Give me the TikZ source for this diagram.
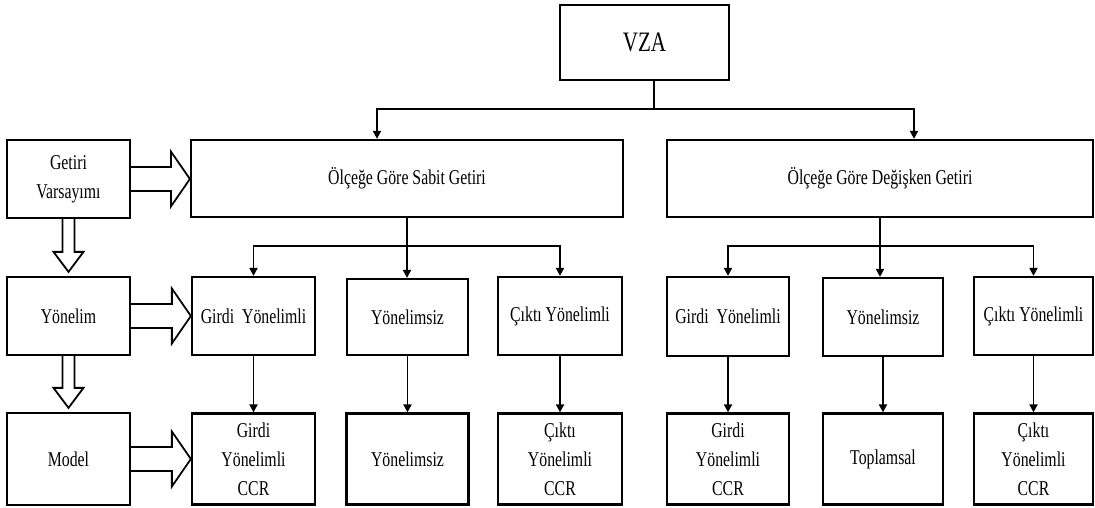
\documentclass[tikz,border=0pt]{standalone}
\usepackage{fontspec}
\setmainfont{Liberation Serif}
\usetikzlibrary{arrows.meta}
\usetikzlibrary{calc}

\newcommand{\tn}[1]{\scalebox{0.75}[1]{#1}}

\tikzset{
  box/.style={draw, line width=1.3pt, align=center, inner sep=1pt, font=\fontsize{12}{16.5}\selectfont},
  conn/.style={line width=1.1pt, -{Triangle[length=4.5pt,width=4.5pt]}},
  bar/.style={line width=1.1pt},
  hollow/.style={draw, line width=1pt, fill=white, line join=miter},
}

\newcommand{\fatright}[2]{%
  \draw[hollow] let \p1=(#1.east), \p2=(#2.west) in
    (\x1,\y1+0.24cm) -- (\x2-0.38cm,\y1+0.24cm) -- (\x2-0.38cm,\y1+0.55cm) -- (\x2,\y1)
    -- (\x2-0.38cm,\y1-0.55cm) -- (\x2-0.38cm,\y1-0.24cm) -- (\x1,\y1-0.24cm);}
\newcommand{\fatdown}[2]{%
  \draw[hollow] let \p1=(#1.south), \p2=(#2.north) in
    (\x1-0.12cm,\y1) -- (\x1-0.12cm,\y2+0.48cm) -- (\x1-0.3cm,\y2+0.48cm) -- (\x1,\y2+0.08cm)
    -- (\x1+0.3cm,\y2+0.48cm) -- (\x1+0.12cm,\y2+0.48cm) -- (\x1+0.12cm,\y1);}

\begin{document}
\begin{tikzpicture}[x=0.02cm, y=-0.02cm]
        \useasboundingbox (0,0) rectangle (1095,507);
        \node[box, minimum width=3.38cm, minimum height=1.5cm, font=\fontsize{16}{19}\selectfont] (vza) at (644.5,42.5) {\tn{VZA}};
        \node[box, minimum width=8.64cm, minimum height=1.54cm] (sabit) at (407,178.5) {\tn{Ölçeğe Göre Sabit Getiri}};
        \node[box, minimum width=8.52cm, minimum height=1.54cm] (degisken) at (880,178.5) {\tn{Ölçeğe Göre Değişken Getiri}};
        \node[box, minimum width=2.46cm, minimum height=1.56cm] (getiri) at (68.5,179) {\tn{Getiri}\\\tn{Varsayımı}};
        \node[box, minimum width=2.46cm, minimum height=1.56cm] (yonelim) at (68.5,316) {\tn{Yönelim}};
        \node[box, minimum width=2.46cm, minimum height=1.84cm] (model) at (68.5,459) {\tn{Model}};

        \node[box, minimum width=2.46cm, minimum height=1.56cm] (girdiS) at (253.5,316) {\tn{Girdi\ \ Yönelimli}};
        \node[box, minimum width=2.42cm, minimum height=1.52cm] (yonsizS) at (407.5,317) {\tn{Yönelimsiz}};
        \node[box, minimum width=2.48cm, minimum height=1.56cm] (ciktiS) at (560,316) {\tn{Çıktı Yönelimli}};
        \node[box, minimum width=2.44cm, minimum height=1.58cm] (girdiD) at (728,316.5) {\tn{Girdi\ \ Yönelimli}};
        \node[box, minimum width=2.40cm, minimum height=1.56cm] (yonsizD) at (883,317) {\tn{Yönelimsiz}};
        \node[box, minimum width=2.38cm, minimum height=1.56cm] (ciktiD) at (1033.5,316) {\tn{Çıktı Yönelimli}};

        \node[box, minimum width=2.46cm, minimum height=1.82cm] (girdiSM) at (253.5,459) {\tn{Girdi}\\\tn{Yönelimli}\\\tn{CCR}};
        \node[box, minimum width=2.44cm, minimum height=1.82cm] (yonsizSM) at (407.5,459) {\tn{Yönelimsiz}};
        \node[box, minimum width=2.48cm, minimum height=1.82cm] (ciktiSM) at (560,459) {\tn{Çıktı}\\\tn{Yönelimli}\\\tn{CCR}};
        \node[box, minimum width=2.44cm, minimum height=1.82cm] (girdiDM) at (728,459) {\tn{Girdi}\\\tn{Yönelimli}\\\tn{CCR}};
        \node[box, minimum width=2.40cm, minimum height=1.82cm] (yonsizDM) at (883,459) {\tn{Toplamsal}};
        \node[box, minimum width=2.38cm, minimum height=1.82cm] (ciktiDM) at (1033.5,459) {\tn{Çıktı}\\\tn{Yönelimli}\\\tn{CCR}};

        \coordinate (busV) at (654,109);
        \coordinate (busL) at (377,109);
        \coordinate (busR) at (914,109);
        \draw[bar] (busV |- vza.south) -- (busV);
        \draw[conn] (busV) -| (sabit.north -| busL);
        \draw[conn] (busV) -| (degisken.north -| busR);

        \coordinate (busS) at (sabit.south |- 0,246);
        \coordinate (busD) at (degisken.south |- 0,246);
        \draw[conn] (sabit.south) -- (sabit.south |- yonsizS.north);
        \draw[conn] (degisken.south) -- (degisken.south |- yonsizD.north);
        \foreach \b in {girdiS, ciktiS} {
                \draw[conn] (busS) -| (\b.north);
            }
        \foreach \b in {girdiD, ciktiD} {
                \draw[conn] (busD) -| (\b.north);
            }
        \foreach \a/\b in {girdiS/girdiSM, yonsizS/yonsizSM, ciktiS/ciktiSM, girdiD/girdiDM, yonsizD/yonsizDM, ciktiD/ciktiDM} {
                \draw[conn] (\a.south) -- (\b.north);
            }

        \fatright{getiri}{sabit}
        \fatright{yonelim}{girdiS}
        \fatright{model}{girdiSM}
        \fatdown{getiri}{yonelim}
        \fatdown{yonelim}{model}
    \end{tikzpicture}
\end{document}
